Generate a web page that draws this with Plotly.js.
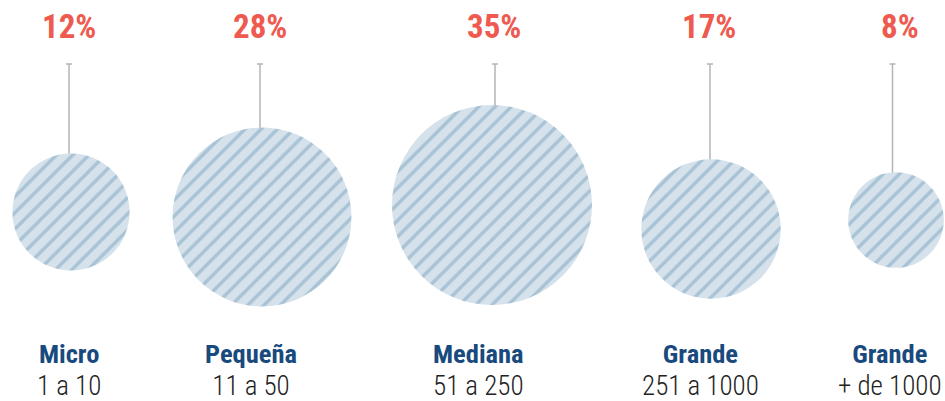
<!DOCTYPE html>
<html>
<head>
<meta charset="utf-8">
<script src="https://cdn.plot.ly/plotly-3.0.1.min.js"></script>
<style>html,body{margin:0;padding:0;background:#fff;}#chart{width:945px;height:401px;}</style>
</head>
<body>
<div id="chart"></div>
<script>
// ---- data ----
var categories = ["Micro", "Pequeña", "Mediana", "Grande", "Grande"];
var ranges = ["1 a 10", "11 a 50", "51 a 250", "251 a 1000", "+ de 1000"];
var shares = [12, 28, 35, 17, 8];
var shareLabels = ["12%", "28%", "35%", "17%", "8%"];

// ---- layout positions (pixels) ----
var W = 945, H = 401;
var circleCX = [71, 262, 492, 711, 896];
var circleCY = [212, 217, 205, 229, 220];
var boxHalf = [70, 100, 100, 80, 49];
var pctX = [69, 259.5, 494.5, 709, 899.5];
var lineX = [69, 260, 495, 710, 892.5];
var labelX = [69, 250.5, 478, 700, 890];
var lineTop = 64;

function px(x) { return x / W; }
function py(y) { return 1 - y / H; }

var RED = '#ef5a50', BLUE = '#184a7e', GREY = '#b5b5b5';
var FILL = '#d6e2eb', STRIPE = '#a8c3d5';

var traces = shares.map(function (v, i) {
  return {
    type: 'pie',
    values: [v],
    labels: [categories[i] + ' ' + ranges[i]],
    scalegroup: 'g',
    sort: false,
    textinfo: 'none',
    hoverinfo: 'skip',
    showlegend: false,
    marker: {
      colors: [FILL],
      line: {width: 0},
      pattern: {shape: '/', bgcolor: FILL, fgcolor: STRIPE, size: 11.5, solidity: 0.3}
    },
    domain: {
      x: [px(circleCX[i] - boxHalf[i]), px(circleCX[i] + boxHalf[i])],
      y: [py(circleCY[i] + boxHalf[i]), py(circleCY[i] - boxHalf[i])]
    }
  };
});

var annotations = [];
var shapes = [];
for (var i = 0; i < shares.length; i++) {
  annotations.push({
    xref: 'paper', yref: 'paper', x: px(pctX[i]), y: py(26.5),
    xanchor: 'center', yanchor: 'middle', showarrow: false,
    text: shareLabels[i],
    font: {family: 'Roboto Condensed, Liberation Sans Narrow, Roboto, sans-serif', size: 33, color: RED, weight: 700}
  });
  annotations.push({
    xref: 'paper', yref: 'paper', x: px(labelX[i]), y: 0, yshift: -3,
    xanchor: 'center', yanchor: 'bottom', showarrow: false, align: 'center',
    text: '<span style="font-size:26.5px;color:' + BLUE + '"><b>' + categories[i] + '</b></span>' +
          '<br><span style="font-size:27px">' + ranges[i] + '</span>',
    font: {family: 'Roboto Condensed, Roboto, sans-serif', size: 24.6, color: '#222222', weight: 300}
  });
  shapes.push({
    type: 'line', xref: 'paper', yref: 'paper', layer: 'below',
    x0: px(lineX[i]), x1: px(lineX[i]), y0: py(lineTop), y1: py(circleCY[i]),
    line: {color: GREY, width: 1.5}
  });
  shapes.push({
    type: 'line', xref: 'paper', yref: 'paper', layer: 'below',
    x0: px(lineX[i] - 3), x1: px(lineX[i] + 3), y0: py(lineTop), y1: py(lineTop),
    line: {color: GREY, width: 1.5}
  });
}

var layout = {
  width: W, height: H,
  margin: {l: 0, r: 0, t: 0, b: 0},
  paper_bgcolor: '#ffffff',
  plot_bgcolor: '#ffffff',
  showlegend: false,
  annotations: annotations,
  shapes: shapes
};

Plotly.newPlot('chart', traces, layout, {displayModeBar: false, staticPlot: true});
</script>
</body>
</html>
